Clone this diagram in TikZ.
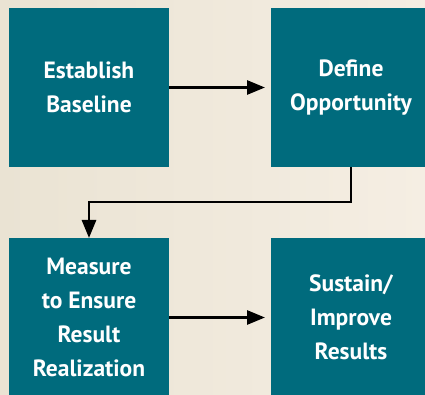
\documentclass[tikz,border=0pt]{standalone}
\usepackage{fontspec}
\setmainfont{PT Sans}
\usepackage{tikz}
\usetikzlibrary{arrows.meta,positioning,calc}

\definecolor{teal}{HTML}{006B7D}
\definecolor{sandleft}{HTML}{EAE3D3}
\definecolor{sandright}{HTML}{F5EEE3}

\begin{document}
\begin{tikzpicture}[->,>={Triangle[length=18pt,width=14pt]},line width=2.8pt,node distance=71pt and 102pt]
\tikzstyle{every node}=[fill=teal,draw=none,text=white,minimum width=160pt,minimum height=159pt,
  align=center,font=\fontsize{23.5}{34}\selectfont\bfseries,inner sep=0pt,outer sep=0pt]

  % background
  \shade[left color=sandleft,right color=sandright,draw=none] (0,0) rectangle (425pt,-395pt);
  \useasboundingbox (0,0) rectangle (425pt,-395pt);
  \clip (0,0) rectangle (425pt,-395pt);

  \node         (0) at (89pt,-87.5pt) {Establish\\Baseline};
  \node         (1) [right=of 0]      {Define\\Opportunity};
  \node         (2) [below=of 0]      {Measure\\to Ensure\\Result\\Realization};
  \node         (3) [right=of 2]      {Sustain/\\Improve\\Results};

  \draw[shorten >=6pt] (0) -- (1);
  \draw (1.south) -- ++(0,-35pt) -| (2.north);
  \draw[shorten >=6pt] (2) -- (3);
\end{tikzpicture}
\end{document}
